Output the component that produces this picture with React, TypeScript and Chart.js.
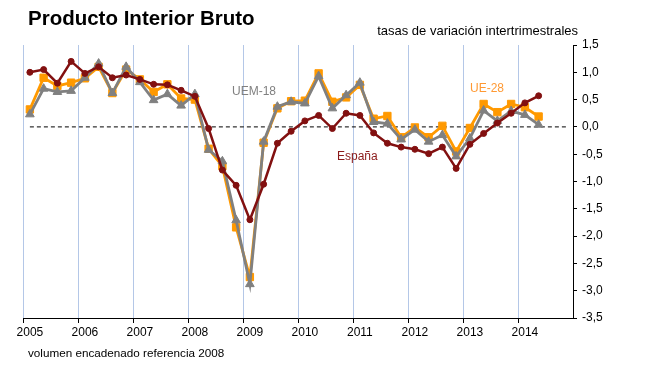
import React, { useEffect, useRef } from 'react';
import { Chart, registerables } from 'chart.js';

Chart.register(...registerables);

const FONT = '"Liberation Sans", Arial, Helvetica, sans-serif';

const years = ['2005', '2006', '2007', '2008', '2009', '2010', '2011', '2012', '2013', '2014'];
const quarterNames = ['T1', 'T2', 'T3', 'T4'];

// 2005 T1 .. 2014 T2
const espana = [
  1.0, 1.05, 0.8, 1.2, 0.98, 1.1, 0.9, 0.95, 0.87, 0.78, 0.77, 0.67, 0.56, -0.03, -0.79, -1.07,
  -1.7, -1.05, -0.3, -0.08, 0.11, 0.21, -0.03, 0.25, 0.21, -0.11, -0.3, -0.37, -0.41, -0.49, -0.37, -0.76,
  -0.32, -0.12, 0.07, 0.25, 0.44, 0.57,
];
const ue28 = [
  0.32, 0.9, 0.75, 0.81, 0.89, 1.1, 0.62, 1.05, 0.87, 0.64, 0.78, 0.52, 0.5, -0.4, -0.72, -1.84,
  -2.75, -0.29, 0.34, 0.47, 0.48, 0.98, 0.46, 0.54, 0.77, 0.15, 0.2, -0.19, -0.01, -0.19, 0.02, -0.45,
  -0.02, 0.42, 0.27, 0.42, 0.36, 0.19,
];
const uem18 = [
  0.23, 0.7, 0.64, 0.66, 0.9, 1.16, 0.62, 1.1, 0.82, 0.49, 0.6, 0.39, 0.6, -0.42, -0.63, -1.71,
  -2.88, -0.27, 0.37, 0.46, 0.43, 0.93, 0.34, 0.58, 0.81, 0.09, 0.06, -0.23, -0.05, -0.27, -0.15, -0.54,
  -0.21, 0.3, 0.11, 0.29, 0.22, 0.04,
];

const yMin = -3.5;
const yMax = 1.5;
const yStep = 0.5;

const COL_ES = '#821010';
const COL_UE = '#FF9900';
const COL_UEM = '#808080';
const COL_GRID = '#B4C7E7';

export default function App() {
  const ref = useRef<HTMLCanvasElement>(null);

  useEffect(() => {
    if (!ref.current) return;
    const labels = years.flatMap((y) => quarterNames.map((q) => `${y} ${q}`));

    const zeroLine = {
      id: 'zeroLine',
      beforeDatasetsDraw(chart: any) {
        const { ctx, scales } = chart;
        const x0 = scales.x.getPixelForValue(0);
        const x1 = scales.x.getPixelForValue(labels.length - 1);
        const y = scales.y.getPixelForValue(0);
        ctx.save();
        ctx.strokeStyle = '#000';
        ctx.lineWidth = 1;
        ctx.setLineDash([4, 3]);
        ctx.beginPath();
        ctx.moveTo(x0, y);
        ctx.lineTo(x1, y);
        ctx.stroke();
        ctx.restore();
      },
    };

    const chart = new Chart(ref.current, {
      type: 'line',
      data: {
        labels,
        datasets: [
          {
            label: 'España',
            data: espana,
            borderColor: COL_ES,
            backgroundColor: COL_ES,
            pointBackgroundColor: COL_ES,
            pointBorderColor: COL_ES,
            borderWidth: 2.5,
            pointStyle: 'circle',
            pointRadius: 3,
            pointBorderWidth: 1,
            order: 0,
          },
          {
            label: 'UEM-18',
            data: uem18,
            borderColor: COL_UEM,
            backgroundColor: COL_UEM,
            pointBackgroundColor: COL_UEM,
            pointBorderColor: COL_UEM,
            borderWidth: 2.8,
            pointStyle: 'triangle',
            pointRadius: 5,
            pointBorderWidth: 1,
            order: 1,
          },
          {
            label: 'UE-28',
            data: ue28,
            borderColor: COL_UE,
            backgroundColor: COL_UE,
            pointBackgroundColor: COL_UE,
            pointBorderColor: COL_UE,
            borderWidth: 2.8,
            pointStyle: 'rect',
            pointRadius: 5.2,
            pointBorderWidth: 1,
            order: 2,
          },
        ],
      },
      options: {
        animation: false,
        responsive: false,
        devicePixelRatio: 1,
        layout: { padding: { left: 23, top: 45, right: 0, bottom: 0 } },
        plugins: { legend: { display: false }, tooltip: { enabled: false } },
        elements: { line: { tension: 0 } },
        scales: {
          x: {
            type: 'category',
            offset: true,
            grid: {
              offset: true,
              drawOnChartArea: true,
              lineWidth: 1,
              tickLength: 5,
              color: (ctx: any) => (ctx.index % 4 === 0 && ctx.index < labels.length ? COL_GRID : 'rgba(0,0,0,0)'),
              tickColor: (ctx: any) => (ctx.index % 4 === 0 ? '#000' : 'rgba(0,0,0,0)'),
            },
            border: { display: true, color: '#000', width: 1 },
            ticks: {
              autoSkip: false,
              maxRotation: 0,
              minRotation: 0,
              padding: 2,
              color: '#000',
              font: { family: FONT, size: 12 },
              callback: (_v: any, i: number) => (i % 4 === 0 ? years[i / 4] : ''),
            },
            afterFit: (s: any) => {
              s.height = 67;
            },
          },
          y: {
            position: 'right',
            min: yMin,
            max: yMax,
            grid: { drawOnChartArea: false, drawTicks: true, tickLength: 4, color: '#000' },
            border: { display: true, color: '#000', width: 1 },
            ticks: {
              stepSize: yStep,
              padding: 5,
              color: '#000',
              font: { family: FONT, size: 12 },
              callback: (v: any) => Number(v).toFixed(1).replace('.', ','),
            },
            afterFit: (s: any) => {
              s.width = 77;
            },
          },
        },
      },
      plugins: [zeroLine],
    } as any);

    return () => chart.destroy();
  }, []);

  const txt = (extra: React.CSSProperties): React.CSSProperties => ({
    position: 'absolute',
    whiteSpace: 'nowrap',
    lineHeight: 1,
    fontFamily: FONT,
    ...extra,
  });

  return (
    <div style={{ position: 'absolute', left: 0, top: 0, width: 650, height: 385, background: '#fff' }}>
      <canvas ref={ref} width={650} height={385} style={{ position: 'absolute', left: 0, top: 0, width: 650, height: 385 }} />
      <div style={txt({ left: 28, top: 8, fontSize: 20.5, fontWeight: 'bold', color: '#000' })}>Producto Interior Bruto</div>
      <div style={txt({ right: 72, top: 24, fontSize: 13, color: '#000' })}>tasas de variación intertrimestrales</div>
      <div style={txt({ left: 28, top: 347, fontSize: 11.7, color: '#000' })}>volumen encadenado referencia 2008</div>
      <div style={txt({ left: 232, top: 85, fontSize: 12, color: COL_UEM })}>UEM-18</div>
      <div style={txt({ left: 337, top: 150, fontSize: 12, color: '#8B1A1A' })}>España</div>
      <div style={txt({ left: 470, top: 82, fontSize: 12, color: '#FF9933' })}>UE-28</div>
    </div>
  );
}
